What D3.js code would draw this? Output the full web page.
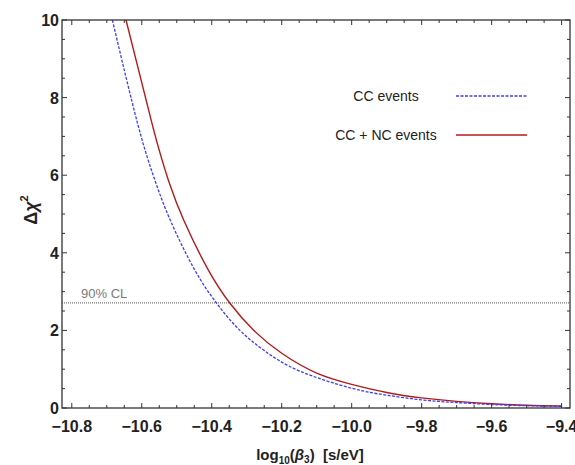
<!DOCTYPE html>
<html>
<head>
<meta charset="utf-8">
<script src="https://cdn.jsdelivr.net/npm/d3@7"></script>
<style>
  body { margin: 0; background: #fff; }
  text { font-family: "Liberation Sans", Arial, sans-serif; }
</style>
</head>
<body>
<script>
// data
var ccX = [-10.684, -10.611, -10.562, -10.519, -10.45, -10.386, -10.324, -10.25, -10.148, -10.0, -9.9, -9.8, -9.7, -9.6, -9.5, -9.4];
var ccY = [10, 7.3, 5.86, 4.85, 3.58, 2.7, 2.04, 1.48, 0.95, 0.51, 0.33, 0.21, 0.14, 0.09, 0.06, 0.04];
var ncX = [-10.645, -10.567, -10.522, -10.479, -10.41, -10.348, -10.281, -10.2, -10.1, -10.0, -9.9, -9.8, -9.7, -9.6, -9.5, -9.4];
var ncY = [10, 7.2, 5.82, 4.82, 3.56, 2.7, 2.01, 1.41, 0.90, 0.61, 0.40, 0.26, 0.17, 0.11, 0.07, 0.05];
var clLevel = 2.71;
var xTicks = [-10.8, -10.6, -10.4, -10.2, -10.0, -9.8, -9.6, -9.4];
var yTicks = [0, 2, 4, 6, 8, 10];
var legendLabels = ["CC events", "CC + NC events"];

var width = 575, height = 465;
var pLeft = 62, pRight = 570, pTop = 20, pBottom = 408;

var svg = d3.select("body").append("svg")
    .attr("width", width)
    .attr("height", height);

var x = d3.scaleLinear().domain([-10.828, -9.376]).range([pLeft, pRight]);
var y = d3.scaleLinear().domain([0, 10]).range([pBottom, pTop]);

svg.append("clipPath").attr("id", "clip")
  .append("rect").attr("x", pLeft).attr("y", pTop)
    .attr("width", pRight - pLeft).attr("height", pBottom - pTop);

// 90% CL line
svg.append("line")
    .attr("x1", pLeft).attr("x2", pRight)
    .attr("y1", y(clLevel)).attr("y2", y(clLevel))
    .attr("stroke", "#777").attr("stroke-width", 1.2)
    .attr("stroke-dasharray", "1,1");
svg.append("text")
    .attr("x", 81).attr("y", y(clLevel) - 5)
    .attr("font-size", 13).attr("fill", "#7a7a7a")
    .text("90% CL");

var line = d3.line()
    .x(function(d) { return x(d[0]); })
    .y(function(d) { return y(d[1]); })
    .curve(d3.curveNatural);

var g = svg.append("g").attr("clip-path", "url(#clip)");

g.append("path")
    .datum(d3.zip(ncX, ncY))
    .attr("d", line)
    .attr("fill", "none")
    .attr("stroke", "#b31b1b")
    .attr("stroke-width", 1.4);

g.append("path")
    .datum(d3.zip(ccX, ccY))
    .attr("d", line)
    .attr("fill", "none")
    .attr("stroke", "#3c3cff")
    .attr("stroke-width", 1.3)
    .attr("stroke-dasharray", "3,1.5");

// frame
svg.append("rect")
    .attr("x", pLeft).attr("y", pTop)
    .attr("width", pRight - pLeft).attr("height", pBottom - pTop)
    .attr("fill", "none").attr("stroke", "#333").attr("stroke-width", 1.3);

// ticks, pointing inward on all four sides
var xMinor = d3.range(-10.8, -9.39, 0.05);
var yMinor = d3.range(0, 10.01, 0.5);
var frameColor = "#333";

xMinor.forEach(function(v, i) {
  var len = (i % 4 === 0) ? 5 : 3;
  svg.append("line").attr("x1", x(v)).attr("x2", x(v))
    .attr("y1", pBottom).attr("y2", pBottom - len)
    .attr("stroke", frameColor).attr("stroke-width", 1);
  svg.append("line").attr("x1", x(v)).attr("x2", x(v))
    .attr("y1", pTop).attr("y2", pTop + len)
    .attr("stroke", frameColor).attr("stroke-width", 1);
});
yMinor.forEach(function(v, i) {
  var len = (i % 4 === 0) ? 5 : 3;
  svg.append("line").attr("x1", pLeft).attr("x2", pLeft + len)
    .attr("y1", y(v)).attr("y2", y(v))
    .attr("stroke", frameColor).attr("stroke-width", 1);
  svg.append("line").attr("x1", pRight).attr("x2", pRight - len)
    .attr("y1", y(v)).attr("y2", y(v))
    .attr("stroke", frameColor).attr("stroke-width", 1);
});

// tick labels
svg.selectAll(".xl").data(xTicks).enter().append("text")
    .attr("x", function(d) { return x(d); })
    .attr("y", 432)
    .attr("text-anchor", "middle")
    .attr("font-size", 16).attr("font-weight", "bold").attr("fill", "#222")
    .text(function(d) { return "\u2212" + Math.abs(d).toFixed(1); });

svg.selectAll(".yl").data(yTicks).enter().append("text")
    .attr("x", 59)
    .attr("y", function(d) { return y(d) + 6; })
    .attr("text-anchor", "end")
    .attr("font-size", 16).attr("font-weight", "bold").attr("fill", "#222")
    .text(function(d) { return d; });

// axis labels
var xl = svg.append("text")
    .attr("x", 310).attr("y", 460)
    .attr("text-anchor", "middle")
    .attr("font-size", 15).attr("font-weight", "bold").attr("fill", "#222");
xl.append("tspan").text("log");
xl.append("tspan").attr("font-size", 10).attr("dy", 4).text("10");
xl.append("tspan").attr("dy", -4).text("(");
xl.append("tspan").attr("font-style", "italic").text("\u03b2");
xl.append("tspan").attr("font-size", 10).attr("dy", 3).text("3");
xl.append("tspan").attr("dy", -3).text(")\u00a0\u00a0[s/eV]");

var yl = svg.append("text")
    .attr("transform", "translate(37,210) rotate(-90)")
    .attr("text-anchor", "middle")
    .attr("font-size", 18).attr("font-weight", "bold").attr("fill", "#222");
yl.append("tspan").text("\u0394");
yl.append("tspan").attr("font-style", "italic").text("\u03c7");
yl.append("tspan").attr("font-size", 11).attr("dy", -9).text("2");

// legend
var legendColors = ["#3c3cff", "#b31b1b"];
var legendDash = ["3,1.5", null];
legendLabels.forEach(function(lab, i) {
  var ly = 96 + i * 39;
  svg.append("text")
    .attr("x", 386).attr("y", ly + 5)
    .attr("text-anchor", "middle")
    .attr("font-size", 14).attr("fill", "#222")
    .text(lab);
  svg.append("line")
    .attr("x1", 456).attr("x2", 527)
    .attr("y1", ly).attr("y2", ly)
    .attr("stroke", legendColors[i])
    .attr("stroke-width", 1.4)
    .attr("stroke-dasharray", legendDash[i]);
});
</script>
</body>
</html>
